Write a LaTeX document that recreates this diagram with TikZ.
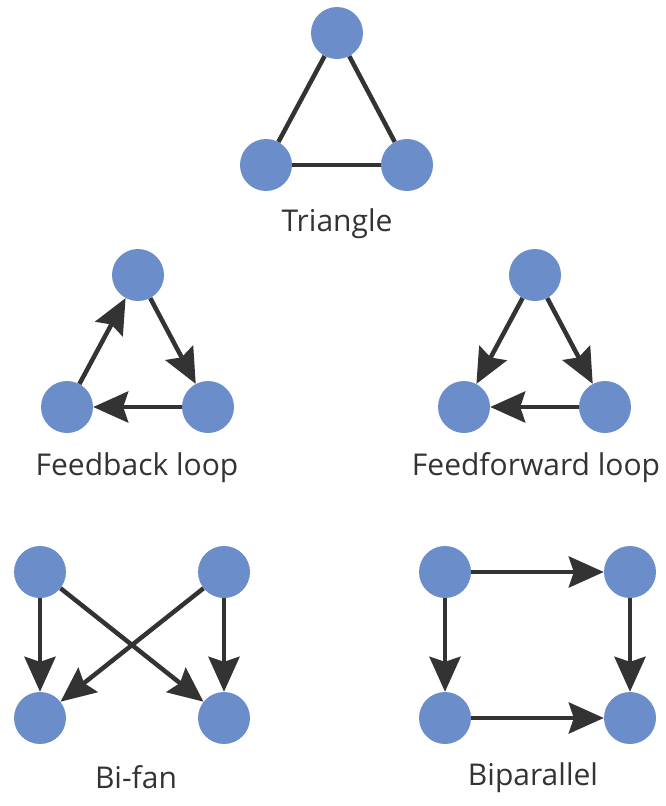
\documentclass[tikz,border=0pt]{standalone}
\usepackage{fontspec}
\setmainfont{Open Sans}
\usetikzlibrary{arrows.meta}
\definecolor{nodeblue}{RGB}{107,141,201}
\definecolor{edgegray}{RGB}{51,51,51}
\begin{document}
\begin{tikzpicture}[x=1pt,y=-1pt,
  vert/.style={circle,fill=nodeblue,minimum size=52pt,inner sep=0pt},
  conn/.style={draw=edgegray,line width=4.5pt},
  arr/.style={conn,-{Stealth[length=35pt 0,width=31pt 0,inset=5pt 0]}},
  lbl/.style={text=edgegray,font=\fontsize{30}{34}\selectfont,anchor=base}]
\useasboundingbox (0,0) rectangle (665,806);
% Triangle
\node[vert] (t1) at (337,33) {};
\node[vert] (t2) at (266,165) {};
\node[vert] (t3) at (407,165) {};
\draw[conn] (t1) -- (t2);
\draw[conn] (t1) -- (t3);
\draw[conn] (t2) -- (t3);
\node[lbl] (tl) at (337,231) {Triangle};
% Feedback loop
\node[vert] (a1) at (138,275) {};
\node[vert] (a2) at (67,407) {};
\node[vert] (a3) at (208,407) {};
\draw[arr] (a1) -- (a3);
\draw[arr] (a3) -- (a2);
\draw[arr] (a2) -- (a1);
\node[lbl] (al) at (137,475) {Feedback loop};
% Feedforward loop
\node[vert] (b1) at (535,275) {};
\node[vert] (b2) at (464,407) {};
\node[vert] (b3) at (605,407) {};
\draw[arr] (b1) -- (b2);
\draw[arr] (b1) -- (b3);
\draw[arr] (b3) -- (b2);
\node[lbl] (bl) at (536,475) {Feedforward loop};
% Bi-fan
\node[vert] (c1) at (40,572) {};
\node[vert] (c2) at (224,572) {};
\node[vert] (c3) at (40,718) {};
\node[vert] (c4) at (224,718) {};
\draw[arr] (c1) -- (c3);
\draw[arr] (c1) -- (c4);
\draw[arr] (c2) -- (c3);
\draw[arr] (c2) -- (c4);
\node[lbl] (cl) at (136,788) {Bi-fan};
% Biparallel
\node[vert] (d1) at (445,572) {};
\node[vert] (d2) at (630,572) {};
\node[vert] (d3) at (445,718) {};
\node[vert] (d4) at (630,718) {};
\draw[arr] (d1) -- (d2);
\draw[arr] (d1) -- (d3);
\draw[arr] (d2) -- (d4);
\draw[arr] (d3) -- (d4);
\node[lbl] (dl) at (533,785) {Biparallel};
\end{tikzpicture}
\end{document}
